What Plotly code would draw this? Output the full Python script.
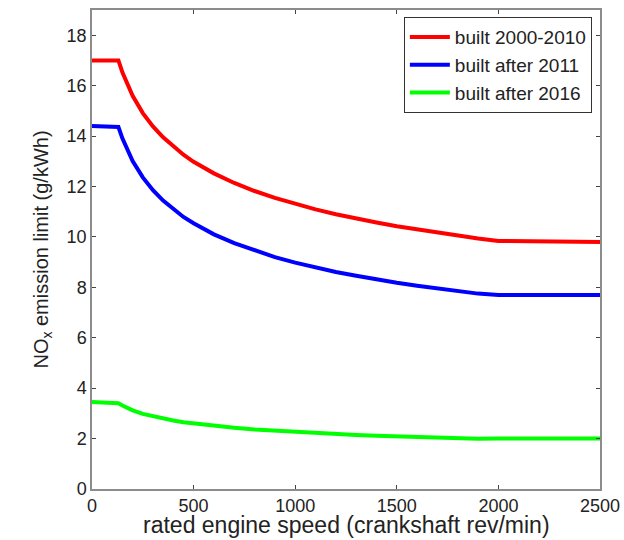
import plotly.graph_objects as go

speed = [0, 130, 150, 175, 200, 250, 300, 350, 400, 450, 500, 550, 600, 700, 800, 900, 1000,
         1100, 1200, 1300, 1400, 1500, 1600, 1700, 1800, 1900, 2000, 2500]
nox_2000_2010 = [17.0, 17.0, 16.52, 16.02, 15.60, 14.91, 14.38, 13.95, 13.58, 13.26, 12.98, 12.74,
                 12.52, 12.14, 11.82, 11.55, 11.30, 11.09, 10.90, 10.72, 10.57, 10.42, 10.29,
                 10.17, 10.05, 9.94, 9.84, 9.8]
nox_after_2011 = [14.4, 14.36, 13.90, 13.42, 13.01, 12.36, 11.85, 11.44, 11.09, 10.79, 10.54, 10.31,
                  10.10, 9.75, 9.46, 9.20, 8.98, 8.79, 8.61, 8.46, 8.31, 8.18, 8.06,
                  7.95, 7.85, 7.75, 7.7, 7.7]
nox_after_2016 = [3.45, 3.40, 3.31, 3.20, 3.12, 2.98, 2.88, 2.79, 2.72, 2.65, 2.60, 2.55,
                  2.50, 2.43, 2.36, 2.31, 2.26, 2.22, 2.18, 2.14, 2.11, 2.08, 2.06,
                  2.03, 2.01, 1.99, 2.0, 2.0]

series = [
    ("built 2000-2010", nox_2000_2010, "#ff0000"),
    ("built after 2011", nox_after_2011, "#0000ff"),
    ("built after 2016", nox_after_2016, "#00ff00"),
]

fig = go.Figure()
for name, vals, col in series:
    fig.add_trace(go.Scatter(x=speed, y=vals, mode="lines", name=name,
                             line=dict(color=col, width=4)))

font = "Liberation Sans, Arial, sans-serif"
axis_common = dict(showgrid=False, zeroline=False, showline=True, mirror="allticks",
                   linecolor="#8c8c8c", linewidth=1.5, ticks="inside", ticklen=4,
                   tickcolor="#444", automargin=False,
                   tickfont=dict(family=font, size=18, color="#222"))

fig.update_layout(
    width=624, height=540,
    margin=dict(l=92, r=24, t=10, b=51, autoexpand=False),
    paper_bgcolor="white", plot_bgcolor="white",
    font=dict(family=font, color="#222"),
    xaxis=dict(range=[0, 2500], tickvals=[0, 500, 1000, 1500, 2000, 2500],
               **axis_common),
    yaxis=dict(range=[0, 19], tickvals=list(range(0, 19, 2)),
               title=dict(text="NO<sub>x</sub> emission limit (g/kWh)",
                          font=dict(size=20, family=font), standoff=13),
               **axis_common),
    legend=dict(x=0.984, y=0.985, xanchor="right", yanchor="top",
                bordercolor="#333", borderwidth=1, bgcolor="white",
                font=dict(size=19, family=font, color="#222"),
                tracegroupgap=0, itemwidth=40),
    showlegend=True,
)

fig.add_annotation(text="rated engine speed (crankshaft rev/min)",
                   xref="paper", yref="paper", x=0.5, y=-0.104,
                   xanchor="center", yanchor="bottom", showarrow=False,
                   borderpad=0,
                   font=dict(size=23, family=font, color="#222"))

fig.write_html("out.html", config={"displayModeBar": False},
               post_script="document.body.style.margin='0px';document.body.style.overflow='hidden';")
